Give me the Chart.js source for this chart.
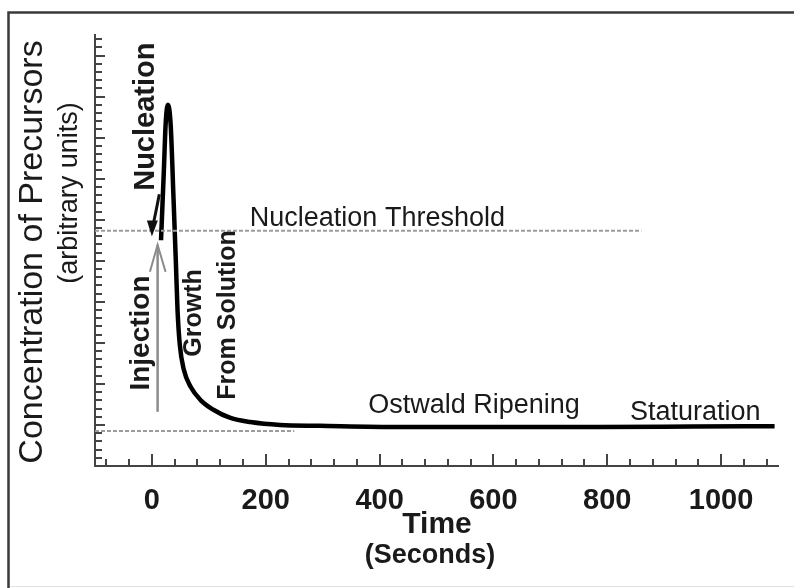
<!DOCTYPE html>
<html>
<head>
<meta charset="utf-8">
<script src="https://cdn.jsdelivr.net/npm/chart.js@4.4.0/dist/chart.umd.min.js"></script>
<style>
    html, body { margin: 0; padding: 0; background: #fff; }
</style>
</head>
<body>
<canvas id="LaMer" width="794" height="588"></canvas>
<script>
// Precursor concentration after injection (LaMer plot)
var timeSec = [16, 21, 24, 28, 33, 38, 42, 45, 49, 56, 68, 86, 108, 138, 173, 225, 295, 435, 600, 784, 950, 1094];
var concentration = [5.5, 7.2, 8.3, 8.8, 8.3, 6.5, 5.0, 3.8, 2.95, 2.35, 1.93, 1.6, 1.37, 1.17, 1.07, 1.0, 0.98, 0.95, 0.95, 0.95, 0.96, 0.97];

// horizontal reference levels
var thresholdX = [-100, 860];
var thresholdLevel = 5.73;
var saturationX = [-100, 250];
var saturationLevel = 0.85;

// injection arrow (shaft, then open head)
var injectionX = [10, 10];
var injectionY = [1.32, 5.39];
var injectionHeadX = [-3.5, 10, 24];
var injectionHeadY = [4.73, 5.39, 4.73];

// nucleation arrow (shaft, then filled head)
var nucArrowX = [13, 7, 0.9];
var nucArrowY = [6.62, 6.2, 5.8];
var nucHeadX = [-8.8, 0, 10.5];
var nucHeadY = [5.98, 5.59, 5.98];

var xTickLabels = [0, 200, 400, 600, 800, 1000];

function pts(xs, ys) {
    var out = [];
    for (let i = 0; i < xs.length; i++) {
        out.push({ x: xs[i], y: ys[i] });
    }
    return out;
}

function level(xs, v) {
    return xs.map(x => ({ x: x, y: v }));
}

var FONT = '"Liberation Sans", Arial, sans-serif';

// labels inside the plot are placed in data units
var plotNotes = [
    { text: 'Nucleation Threshold', x: 172, y: 5.85, font: '27px ' + FONT, rot: false },
    { text: 'Ostwald Ripening', x: 380, y: 1.29, font: '27px ' + FONT, rot: false },
    { text: 'Staturation', x: 840, y: 1.12, font: '27px ' + FONT, rot: false },
    { text: 'Nucleation', x: -10.5, y: 8.51, font: 'bold 29px ' + FONT, rot: true },
    { text: 'Injection', x: -19, y: 3.24, font: 'bold 28px ' + FONT, rot: true },
    { text: 'Growth', x: 75, y: 3.73, font: 'bold 25px ' + FONT, rot: true },
    { text: 'From Solution', x: 133, y: 3.68, font: 'bold 25px ' + FONT, rot: true }
];

function drawText(ctx, str, x, y, font, rot, align) {
    ctx.save();
    ctx.font = font;
    ctx.fillStyle = '#1a1a1a';
    ctx.translate(x, y);
    if (rot) {
        ctx.rotate(-Math.PI / 2);
        ctx.textAlign = 'center';
        ctx.textBaseline = 'middle';
    } else {
        ctx.textAlign = align || 'left';
        ctx.textBaseline = 'alphabetic';
    }
    ctx.fillText(str, 0, 0);
    ctx.restore();
}

var decorations = {
    id: 'decorations',
    beforeDatasetsDraw(chart) {
        var ctx = chart.ctx;
        var xs = chart.scales.x, ys = chart.scales.y;
        var area = chart.chartArea;
        ctx.save();
        ctx.strokeStyle = '#444';
        ctx.lineWidth = 2;
        ctx.beginPath();
        // y ticks, pointing inward: minor every 0.2, major every 1
        for (let i = 0; i <= 52; i++) {
            var py = Math.round(ys.getPixelForValue(i * 0.2));
            ctx.moveTo(area.left, py);
            ctx.lineTo(area.left + (i % 5 === 0 ? 10 : 7), py);
        }
        // x ticks, pointing up
        for (let v = -80; v <= 1100; v += 40) {
            var px = Math.round(xs.getPixelForValue(v));
            ctx.moveTo(px, area.bottom);
            ctx.lineTo(px, area.bottom - (v % 200 === 0 ? 12 : 7));
        }
        ctx.stroke();
        ctx.restore();
    },
    afterDraw(chart) {
        var ctx = chart.ctx;
        var xs = chart.scales.x, ys = chart.scales.y;

        // filled head of the nucleation arrow
        ctx.save();
        ctx.fillStyle = '#111';
        ctx.beginPath();
        for (let i = 0; i < nucHeadX.length; i++) {
            var hx = xs.getPixelForValue(nucHeadX[i]);
            var hy = ys.getPixelForValue(nucHeadY[i]);
            if (i === 0) ctx.moveTo(hx, hy); else ctx.lineTo(hx, hy);
        }
        ctx.closePath();
        ctx.fill();
        ctx.restore();

        plotNotes.forEach(n => {
            drawText(ctx, n.text, xs.getPixelForValue(n.x), ys.getPixelForValue(n.y), n.font, n.rot);
        });

        // axis titles
        drawText(ctx, 'Concentration of Precursors', 33, 252, '34px ' + FONT, true);
        drawText(ctx, '(arbitrary units)', 70, 193, '27px ' + FONT, true);
        drawText(ctx, 'Time', 437, 533, 'bold 30px ' + FONT, false, 'center');
        drawText(ctx, '(Seconds)', 430, 563, 'bold 27px ' + FONT, false, 'center');

        // frame
        ctx.save();
        ctx.strokeStyle = '#3a3a3a';
        ctx.lineWidth = 2.5;
        ctx.beginPath();
        ctx.moveTo(794, 12.5);
        ctx.lineTo(8.5, 12.5);
        ctx.lineTo(8.5, 588);
        ctx.stroke();
        ctx.strokeStyle = '#e2e2e2';
        ctx.lineWidth = 1;
        ctx.beginPath();
        ctx.moveTo(10, 586.5);
        ctx.lineTo(794, 586.5);
        ctx.stroke();
        ctx.restore();
    }
};

var ctx = document.getElementById('LaMer');

var chart = new Chart(ctx, {
    type: 'scatter',
    plugins: [decorations],
    data: {
        datasets: [{
            data: level(thresholdX, thresholdLevel),
            borderColor: '#9c9c9c',
            borderWidth: 2,
            borderDash: [4, 2],
        }, {
            data: level(saturationX, saturationLevel),
            borderColor: '#9c9c9c',
            borderWidth: 2,
            borderDash: [4, 2],
        }, {
            data: pts(injectionX, injectionY),
            borderColor: '#8c8c8c',
            borderWidth: 2.5,
        }, {
            data: pts(injectionHeadX, injectionHeadY),
            borderColor: '#8c8c8c',
            borderWidth: 2,
        }, {
            data: pts(nucArrowX, nucArrowY),
            borderColor: '#111',
            borderWidth: 3,
            tension: 0.4,
        }, {
            data: pts(timeSec, concentration),
            borderColor: '#000',
            borderWidth: 4.5,
            cubicInterpolationMode: 'monotone',
        }]
    },
    options: {
        responsive: false,
        animation: false,
        devicePixelRatio: 1,
        showLine: true,
        elements: {
            point: { radius: 0, hoverRadius: 0 },
            line: { fill: false }
        },
        layout: {
            padding: { left: 95, right: 16, top: 35, bottom: 0 }
        },
        plugins: {
            legend: { display: false },
            tooltip: { enabled: false }
        },
        scales: {
            x: {
                type: 'linear',
                min: -100,
                max: 1100,
                afterBuildTicks: scale => {
                    scale.ticks = xTickLabels.map(v => ({ value: v }));
                },
                afterFit: scale => { scale.height = 122; },
                grid: { display: false },
                border: { display: true, color: '#444', width: 2 },
                ticks: {
                    color: '#1a1a1a',
                    padding: 10,
                    maxRotation: 0,
                    autoSkip: false,
                    font: { family: FONT, size: 29, weight: 'bold' },
                    callback: v => String(v)
                }
            },
            y: {
                type: 'linear',
                min: 0,
                max: 10.5,
                afterFit: scale => { scale.width = 0; },
                grid: { display: false },
                border: { display: true, color: '#444', width: 2 },
                ticks: { display: false }
            }
        }
    }
});
</script>
</body>
</html>
